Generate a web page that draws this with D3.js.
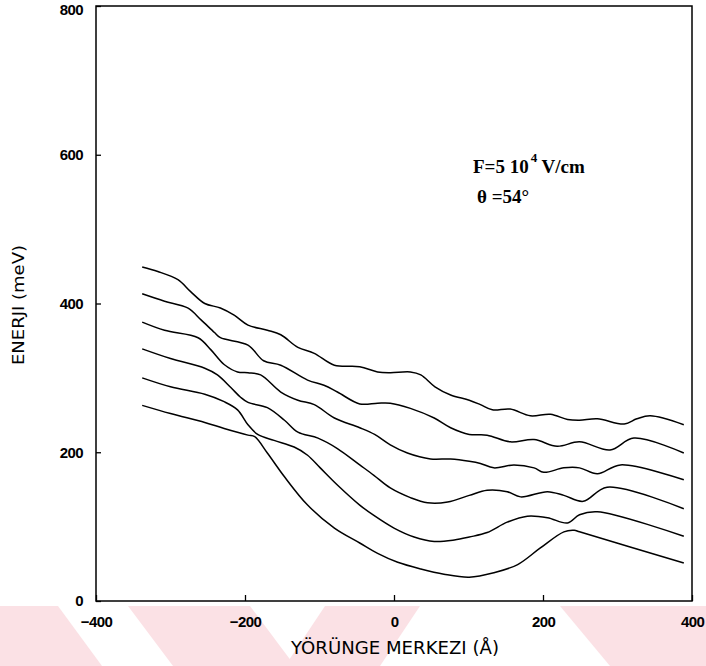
<!DOCTYPE html>
<html>
<head>
<meta charset="utf-8">
<script src="https://cdn.jsdelivr.net/npm/d3@7"></script>
<style>
  html, body { margin: 0; padding: 0; background: #fff; }
  svg { display: block; }
</style>
</head>
<body>
<svg id="chart" width="706" height="666"></svg>
<script>
// Orbit-centre position (Å) and energy (meV) of the six lowest levels,
// F = 5·10^4 V/cm, θ = 54°
const level1 = [[-338,449],[-317,443],[-290,432],[-273,416],[-254,400],[-233,394],[-214,384],[-196,371],[-170,364],[-152,358],[-129,341],[-107,333],[-80,317],[-46,315],[-22,308],[-5,307],[22,308],[36,304],[55,288],[76,277],[101,270],[116,264],[132,257],[156,258],[183,249],[210,251],[233,244],[249,243],[273,245],[309,238],[326,245],[344,249],[389,237]];
const level2 = [[-338,413],[-308,403],[-277,394],[-259,378],[-241,361],[-233,354],[-196,344],[-175,323],[-152,317],[-116,297],[-94,290],[-76,281],[-46,265],[-22,266],[-5,266],[22,259],[54,246],[76,233],[101,224],[125,223],[156,214],[188,217],[219,208],[249,214],[290,203],[322,219],[389,199]];
const level3 = [[-338,375],[-308,364],[-263,354],[-246,338],[-228,318],[-210,308],[-196,307],[-179,304],[-152,281],[-129,270],[-107,264],[-80,246],[-46,233],[-26,224],[-5,210],[18,199],[49,191],[76,191],[101,188],[116,185],[134,179],[161,183],[188,179],[201,173],[228,179],[249,179],[273,171],[304,183],[389,163]];
const level4 = [[-338,339],[-300,326],[-254,313],[-237,304],[-219,287],[-206,274],[-196,267],[-170,260],[-147,243],[-129,227],[-102,219],[-76,205],[-46,183],[-27,169],[-5,152],[22,139],[45,132],[72,133],[101,142],[125,149],[152,147],[170,140],[206,147],[228,142],[254,134],[286,153],[389,124]];
const level5 = [[-338,300],[-300,288],[-254,278],[-228,268],[-210,257],[-196,237],[-183,224],[-161,216],[-134,207],[-116,196],[-99,179],[-76,156],[-46,129],[-27,115],[0,98],[27,86],[54,80],[81,82],[101,86],[125,92],[152,106],[179,114],[206,112],[233,105],[249,116],[273,120],[389,87]];
const level6 = [[-338,263],[-300,252],[-254,240],[-228,232],[-196,223],[-187,221],[-170,199],[-147,167],[-116,129],[-80,98],[-46,78],[-22,64],[5,52],[36,43],[67,36],[101,32],[134,38],[166,49],[196,71],[228,93],[242,95],[249,93],[389,51]];
const levels = [level1, level2, level3, level4, level5, level6];

const xTicks = [-400, -200, 0, 200, 400];
const yTicks = [0, 200, 400, 600, 800];

const svg = d3.select("#chart");
const plot = { left: 96, right: 692, top: 6, bottom: 601 };

// faint watermark bands along the bottom edge
const bands = [
  [[0,606],[58,606],[102,666],[0,666]],
  [[128,606],[250,606],[295,666],[173,666]],
  [[325,606],[420,606],[380,666],[285,666]],
  [[560,606],[706,606],[706,666],[610,666]]
];
svg.append("g").selectAll("polygon").data(bands).join("polygon")
  .attr("points", d => d.map(p => p.join(",")).join(" "))
  .attr("fill", "#fbe1e5");

const x = d3.scaleLinear().domain([-400, 400]).range([plot.left, plot.right]);
const y = d3.scaleLinear().domain([0, 800]).range([plot.bottom, plot.top]);

const tickFont = "'Liberation Sans', Arial, sans-serif";
const titleFont = "'DejaVu Sans', Verdana, sans-serif";

// frame
svg.append("rect")
  .attr("x", plot.left).attr("y", plot.top)
  .attr("width", plot.right - plot.left).attr("height", plot.bottom - plot.top)
  .attr("fill", "none").attr("stroke", "#000").attr("stroke-width", 1.5);

// bottom axis, ticks pointing inward
const gx = svg.append("g")
  .attr("transform", `translate(0,${plot.bottom})`)
  .call(d3.axisBottom(x).tickValues(xTicks).tickSize(-6).tickPadding(15).tickFormat(d3.format("d")));
gx.select(".domain").remove();
gx.selectAll("line").attr("stroke", "#000").attr("stroke-width", 1.3);
gx.selectAll("text")
  .attr("font-family", tickFont).attr("font-size", 15).attr("font-weight", "bold")
  .attr("fill", "#000").attr("letter-spacing", "-0.6px");

// left axis, ticks pointing inward
const gy = svg.append("g")
  .attr("transform", `translate(${plot.left},0)`)
  .call(d3.axisLeft(y).tickValues(yTicks).tickSize(-5).tickPadding(13).tickFormat(d3.format("d")));
gy.select(".domain").remove();
gy.selectAll("line").attr("stroke", "#000").attr("stroke-width", 1.3);
gy.selectAll("text")
  .attr("font-family", tickFont).attr("font-size", 15).attr("font-weight", "bold")
  .attr("fill", "#000").attr("letter-spacing", "-0.6px");
// keep the top label inside the page
gy.selectAll(".tick").filter(d => d === 800).select("text").attr("dy", "0.32em").attr("y", 4);

// axis titles
svg.append("text")
  .attr("x", 395).attr("y", 654)
  .attr("text-anchor", "middle")
  .attr("font-family", titleFont).attr("font-size", 17)
  .attr("textLength", 208).attr("lengthAdjust", "spacingAndGlyphs")
  .attr("fill", "#000")
  .text("YÖRÜNGE MERKEZI (Å)");

svg.append("text")
  .attr("transform", "translate(24,305) rotate(-90)")
  .attr("text-anchor", "middle")
  .attr("font-family", titleFont).attr("font-size", 16)
  .attr("textLength", 120).attr("lengthAdjust", "spacingAndGlyphs")
  .attr("fill", "#000")
  .text("ENERJI (meV)");

// energy levels
const line = d3.line()
  .x(d => x(d[0]))
  .y(d => y(d[1]))
  .curve(d3.curveCatmullRom.alpha(0.5));

svg.append("g").selectAll("path").data(levels).join("path")
  .attr("d", line)
  .attr("fill", "none")
  .attr("stroke", "#000")
  .attr("stroke-width", 1.5)
  .attr("stroke-linejoin", "round");

// field and angle annotation
const serif = "'Liberation Serif', 'Times New Roman', serif";
const ann = svg.append("text")
  .attr("x", 473).attr("y", 173)
  .attr("font-family", serif).attr("font-size", 19).attr("font-weight", "bold")
  .attr("fill", "#000");
ann.append("tspan").text("F=5 10");
ann.append("tspan").attr("dx", 2).attr("dy", -11).attr("font-size", 13).text("4");
ann.append("tspan").attr("dy", 11).text(" V/cm");

svg.append("text")
  .attr("x", 477).attr("y", 203)
  .attr("font-family", serif).attr("font-size", 19).attr("font-weight", "bold")
  .attr("fill", "#000")
  .text("θ =54°");
</script>
</body>
</html>
